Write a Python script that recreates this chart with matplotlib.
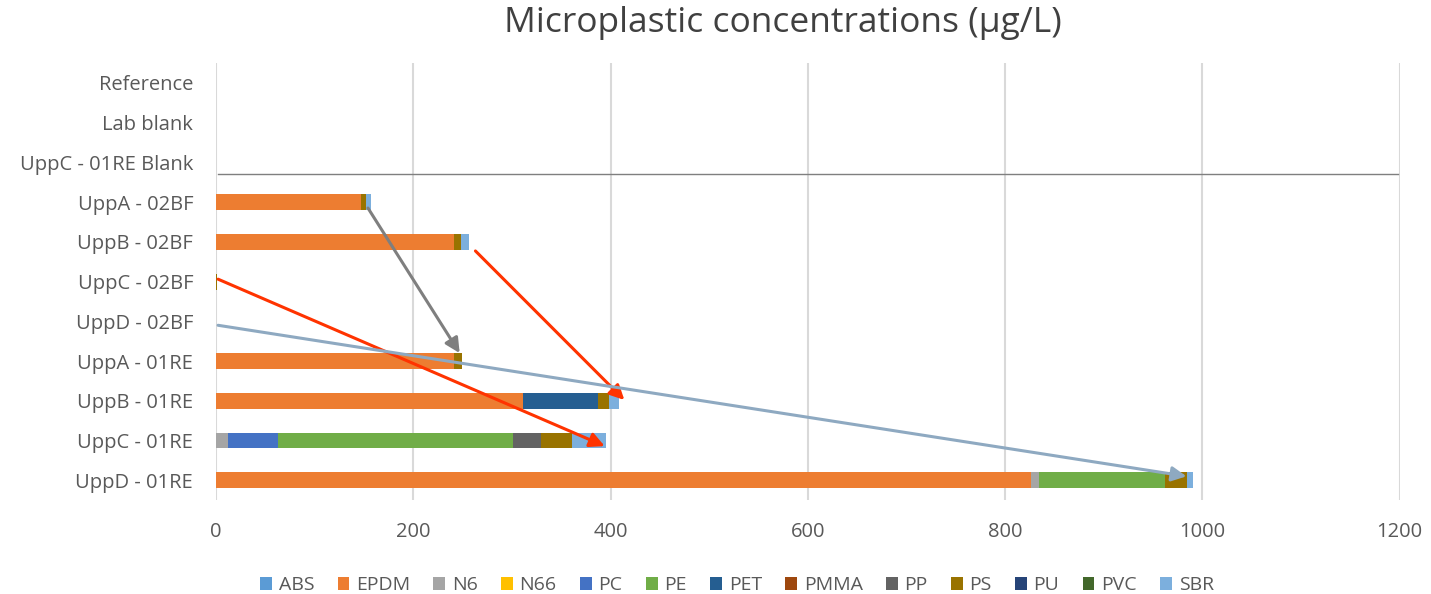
import numpy as np
import matplotlib
matplotlib.use('Agg')
from matplotlib import pyplot as plt

plt.rcParams['font.family'] = ['Open Sans', 'DejaVu Sans']

# categories top -> bottom
samples = ['Reference', 'Lab blank', 'UppC - 01RE Blank', 'UppA - 02BF', 'UppB - 02BF',
           'UppC - 02BF', 'UppD - 02BF', 'UppA - 01RE', 'UppB - 01RE', 'UppC - 01RE', 'UppD - 01RE']

polymers = ['ABS', 'EPDM', 'N6', 'N66', 'PC', 'PE', 'PET', 'PMMA', 'PP', 'PS', 'PU', 'PVC', 'SBR']
colors = ['#5B9BD5', '#ED7D31', '#A5A5A5', '#FFC000', '#4472C4', '#70AD47', '#255E91',
          '#9E480E', '#636363', '#997300', '#264478', '#43682B', '#7CAFDD']

ABS  = [0, 0, 0, 0, 0, 0, 0, 0, 0, 0, 0]
EPDM = [0, 0, 0, 147, 241, 0, 0, 241, 311, 0, 826]
N6   = [0, 0, 0, 0, 0, 0, 0, 0, 0, 12, 8]
N66  = [0, 0, 0, 0, 0, 0, 0, 0, 0, 0, 0]
PC   = [0, 0, 0, 0, 0, 0, 0, 0, 0, 51, 0]
PE   = [0, 0, 0, 0, 0, 0, 0, 0, 0, 238, 128]
PET  = [0, 0, 0, 0, 0, 0, 0, 0, 76, 0, 0]
PMMA = [0, 0, 0, 0, 0, 0, 0, 0, 0, 0, 0]
PP   = [0, 0, 0, 0, 0, 0, 0, 0, 0, 28, 0]
PS   = [0, 0, 0, 5, 7, 1, 0, 8, 11, 32, 23]
PU   = [0, 0, 0, 0, 0, 0, 0, 0, 0, 0, 0]
PVC  = [0, 0, 0, 0, 0, 0, 0, 0, 0, 0, 0]
SBR  = [0, 0, 0, 5, 8, 0, 0, 0, 11, 34, 6]
series = [ABS, EPDM, N6, N66, PC, PE, PET, PMMA, PP, PS, PU, PVC, SBR]

# annotation arrows (start, end) in data coords: (x, category index from top)
arrows = [((154, 3.15), (247, 6.8), '#7F7F7F'),
          ((263, 4.23), (414, 7.98), '#FF3300'),
          ((2, 4.94), (394, 9.14), '#FF3300'),
          ((2, 6.1), (984, 9.9), '#8EA9C1')]

fig = plt.figure(figsize=(14.31, 5.94), dpi=100)
ax = fig.add_axes([0.151, 0.158, 0.827, 0.736])

y = np.arange(len(samples))
left = np.zeros(len(samples))
for name, vals, c in zip(polymers, series, colors):
    vals = np.array(vals, dtype=float)
    ax.barh(y, vals, left=left, height=0.4, color=c, label=name, zorder=2)
    left += vals

ax.plot([2, 1198], [2.29, 2.29], color='#7F7F7F', lw=1, zorder=3)
for (x0, y0), (x1, y1), c in arrows:
    ax.annotate('', xy=(x1, y1), xytext=(x0, y0),
                arrowprops=dict(arrowstyle='-|>', color=c, lw=2.2, mutation_scale=22,
                                shrinkA=0, shrinkB=0), zorder=4)

ax.set_yticks(y)
ax.set_yticklabels(samples)
ax.set_ylim(10.5, -0.5)
ax.set_xlim(0, 1200)
ax.set_xticks(np.arange(0, 1201, 200))
ax.grid(axis='x', color='#D9D9D9', lw=1.5, zorder=0)
for s in ax.spines.values():
    s.set_visible(False)
ax.tick_params(axis='both', length=0, labelsize=14.5, labelcolor='#595959')
ax.tick_params(axis='y', pad=16.5)
ax.tick_params(axis='x', pad=16)

fig.suptitle('Microplastic concentrations (µg/L)', fontsize=25.5, color='#404040',
             x=0.547, y=0.99)
fig.legend(loc='lower center', ncol=13, bbox_to_anchor=(0.515, -0.03), frameon=False,
           fontsize=14, labelcolor='#595959', handlelength=0.6, handleheight=0.6,
           handletextpad=0.35, columnspacing=1.2)

fig.savefig('out.png', dpi=100)
